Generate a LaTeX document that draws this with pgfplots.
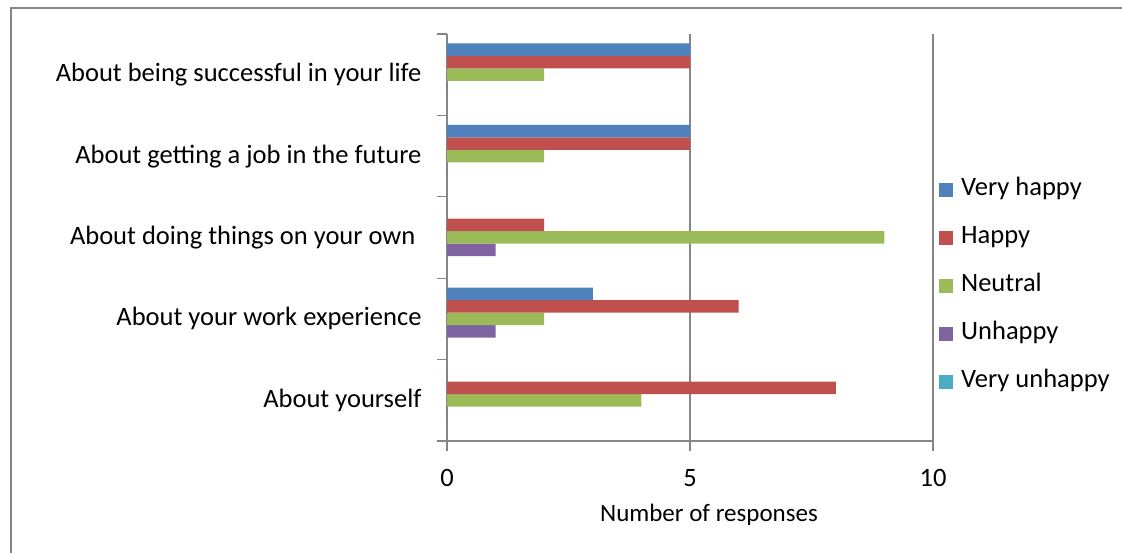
\documentclass[border=0pt]{standalone}
\usepackage{pgfplots}
\pgfplotsset{compat=1.18}
\usepackage{fontspec}
\setmainfont{Carlito}
\definecolor{cVH}{HTML}{4F81BD}
\definecolor{cH}{HTML}{C0504D}
\definecolor{cN}{HTML}{9BBB59}
\definecolor{cU}{HTML}{8064A2}
\definecolor{cVU}{HTML}{4BACC6}
\definecolor{gridc}{HTML}{868686}
\begin{document}
\begin{tikzpicture}[x=1pt,y=1pt]
\useasboundingbox (0,0) rectangle (1122,553);
\draw[color=gridc, line width=1.5pt] (11,0) -- (11,545) -- (1122,545);
\begin{axis}[
  at={(447pt,112pt)}, anchor=south west,
  scale only axis, width=486pt, height=407pt,
  xmin=0, xmax=10, ymin=0.5, ymax=5.5,
  xbar=0pt, bar width=12.5pt,
  axis x line*=bottom, axis y line*=left,
  axis line style={draw=gridc, line width=1.2pt, -},
  xtick={0,5,10},
  xmajorgrids, grid style={draw=gridc, line width=1.2pt},
  ytick={1,2,3,4,5},
  yticklabels={About yourself, About your work experience, About doing things on your own\hspace*{6pt}, About getting a job in the future, About being successful in your life},
  minor ytick={0.5,1.5,2.5,3.5,4.5,5.5},
  tick align=outside,
  major tick length=10pt, minor tick length=10pt,
  major y tick style={draw=none},
  minor y tick style={draw=gridc, line width=1.2pt},
  major x tick style={draw=gridc, line width=1.2pt},
  tick label style={font=\fontsize{26.5}{31}\selectfont},
  /pgf/number format/assume math mode=true,
  xticklabel style={yshift=-15pt},
  yticklabel style={xshift=-12pt},
  xlabel={Number of responses},
  xlabel style={font=\fontsize{25}{30}\selectfont, at={(axis description cs:0.539,0)}, anchor=center, yshift=-74pt},
  legend style={at={(1.0123,0.647)}, anchor=north west, draw=none, fill=none, inner sep=0pt,
    font=\fontsize{26.5}{31}\selectfont, row sep=24pt,
    nodes={inner sep=0pt, text height=18pt, text depth=6pt}},
  legend cell align=left,
  legend image code/.code={\fill (0pt,-7pt) rectangle (14pt,7pt);},
  /tikz/every odd column/.append style={column sep=8pt},
  reverse legend,
]
\addplot[fill=cVU, draw=none] coordinates {(0,1) (0,2) (0,3) (0,4) (0,5)};
\addplot[fill=cU, draw=none] coordinates {(0,1) (1,2) (1,3) (0,4) (0,5)};
\addplot[fill=cN, draw=none] coordinates {(4,1) (2,2) (9,3) (2,4) (2,5)};
\addplot[fill=cH, draw=none] coordinates {(8,1) (6,2) (2,3) (5,4) (5,5)};
\addplot[fill=cVH, draw=none] coordinates {(0,1) (3,2) (0,3) (5,4) (5,5)};
\legend{Very unhappy, Unhappy, Neutral, Happy, Very happy}
\end{axis}
\end{tikzpicture}
\end{document}
